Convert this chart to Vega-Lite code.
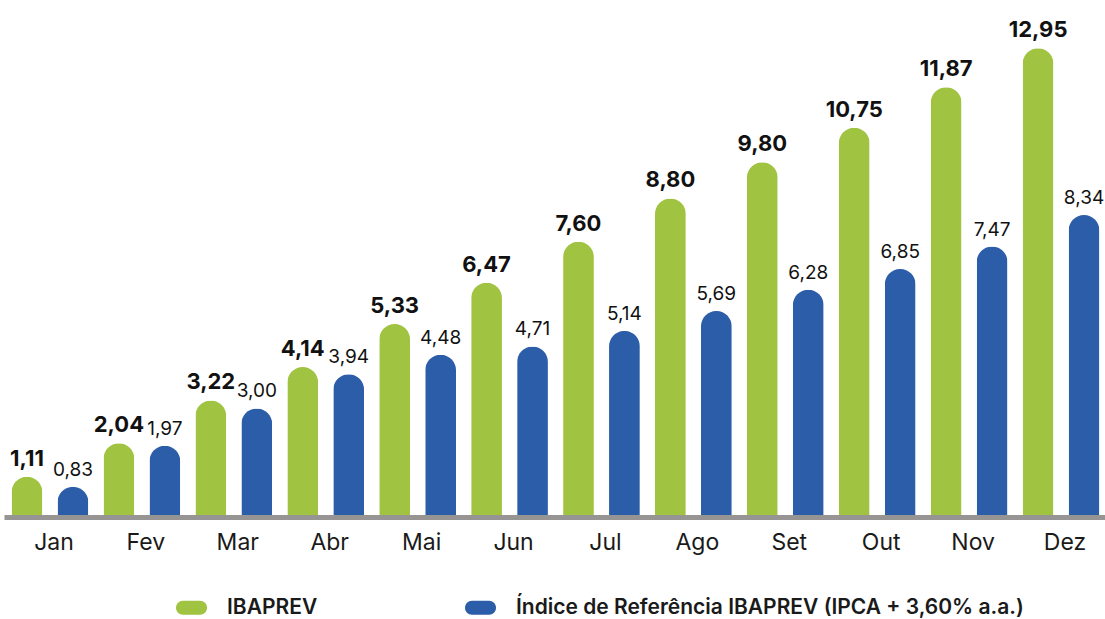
{
  "$schema": "https://vega.github.io/schema/vega-lite/v6.json",
  "width": 1103,
  "height": 517,
  "autosize": {"type": "none"},
  "padding": {"left": 4, "top": 0, "right": 0, "bottom": 102},
  "background": "white",
  "config": {
    "view": {"stroke": null},
    "font": "Inter",
    "locale": {"number": {"decimal": ",", "thousands": ".", "grouping": [3], "currency": ["R$", ""]}}
  },
  "data": {
    "values": [
      {"month": "Jan", "series": "IBAPREV", "value": 1.11},
      {"month": "Jan", "series": "Índice de Referência IBAPREV (IPCA + 3,60% a.a.)", "value": 0.83},
      {"month": "Fev", "series": "IBAPREV", "value": 2.04},
      {"month": "Fev", "series": "Índice de Referência IBAPREV (IPCA + 3,60% a.a.)", "value": 1.97},
      {"month": "Mar", "series": "IBAPREV", "value": 3.22},
      {"month": "Mar", "series": "Índice de Referência IBAPREV (IPCA + 3,60% a.a.)", "value": 3.00},
      {"month": "Abr", "series": "IBAPREV", "value": 4.14},
      {"month": "Abr", "series": "Índice de Referência IBAPREV (IPCA + 3,60% a.a.)", "value": 3.94},
      {"month": "Mai", "series": "IBAPREV", "value": 5.33},
      {"month": "Mai", "series": "Índice de Referência IBAPREV (IPCA + 3,60% a.a.)", "value": 4.48},
      {"month": "Jun", "series": "IBAPREV", "value": 6.47},
      {"month": "Jun", "series": "Índice de Referência IBAPREV (IPCA + 3,60% a.a.)", "value": 4.71},
      {"month": "Jul", "series": "IBAPREV", "value": 7.60},
      {"month": "Jul", "series": "Índice de Referência IBAPREV (IPCA + 3,60% a.a.)", "value": 5.14},
      {"month": "Ago", "series": "IBAPREV", "value": 8.80},
      {"month": "Ago", "series": "Índice de Referência IBAPREV (IPCA + 3,60% a.a.)", "value": 5.69},
      {"month": "Set", "series": "IBAPREV", "value": 9.80},
      {"month": "Set", "series": "Índice de Referência IBAPREV (IPCA + 3,60% a.a.)", "value": 6.28},
      {"month": "Out", "series": "IBAPREV", "value": 10.75},
      {"month": "Out", "series": "Índice de Referência IBAPREV (IPCA + 3,60% a.a.)", "value": 6.85},
      {"month": "Nov", "series": "IBAPREV", "value": 11.87},
      {"month": "Nov", "series": "Índice de Referência IBAPREV (IPCA + 3,60% a.a.)", "value": 7.47},
      {"month": "Dez", "series": "IBAPREV", "value": 12.95},
      {"month": "Dez", "series": "Índice de Referência IBAPREV (IPCA + 3,60% a.a.)", "value": 8.34}
    ]
  },
  "encoding": {
    "x": {
      "field": "month",
      "type": "nominal",
      "sort": ["Jan", "Fev", "Mar", "Abr", "Mai", "Jun", "Jul", "Ago", "Set", "Out", "Nov", "Dez"],
      "scale": {"paddingInner": 0, "paddingOuter": 0},
      "axis": {
        "title": null,
        "orient": "bottom",
        "labelAngle": 0,
        "domain": true,
        "domainColor": "#979494",
        "domainWidth": 5,
        "ticks": false,
        "grid": false,
        "labelFont": "Inter",
        "labelFontSize": 23,
        "labelColor": "#1a1a1a",
        "labelPadding": 14,
        "labelOffset": 4,
        "zindex": 1
      }
    },
    "xOffset": {
      "field": "series",
      "type": "nominal",
      "sort": ["IBAPREV", "Índice de Referência IBAPREV (IPCA + 3,60% a.a.)"],
      "scale": {"paddingInner": 0.33, "paddingOuter": 0.165}
    },
    "y": {
      "field": "value",
      "type": "quantitative",
      "scale": {"domain": [0, 14.28], "nice": false, "zero": true},
      "axis": null
    }
  },
  "layer": [
    {
      "mark": {"type": "bar", "cornerRadiusTopLeft": 15.5, "cornerRadiusTopRight": 15.5},
      "encoding": {
        "color": {
          "field": "series",
          "type": "nominal",
          "sort": ["IBAPREV", "Índice de Referência IBAPREV (IPCA + 3,60% a.a.)"],
          "scale": {
            "domain": ["IBAPREV", "Índice de Referência IBAPREV (IPCA + 3,60% a.a.)"],
            "range": ["#A0C341", "#2C5DA8"]
          },
          "legend": {
            "title": null,
            "orient": "none",
            "direction": "horizontal",
            "legendX": 172,
            "legendY": 592,
            "padding": 0,
            "symbolType": "M -0.55 -0.45 L 0.55 -0.45 A 0.45 0.45 0 0 1 0.55 0.45 L -0.55 0.45 A 0.45 0.45 0 0 1 -0.55 -0.45 Z",
            "symbolSize": 961,
            "symbolStrokeWidth": 0,
            "symbolOpacity": 1,
            "labelFont": "Inter",
            "labelFontSize": 21,
            "labelFontWeight": 600,
            "labelColor": "#1a1a1a",
            "labelOffset": 20,
            "labelLimit": 800,
            "columnPadding": 146
          }
        }
      }
    },
    {
      "transform": [{"filter": "datum.series === 'IBAPREV'"}],
      "mark": {"type": "text", "baseline": "alphabetic", "dy": -11, "fontSize": 22, "fontWeight": "bold", "color": "#111111", "font": "Inter"},
      "encoding": {"text": {"field": "value", "type": "quantitative", "format": ".2f"}}
    },
    {
      "transform": [{"filter": "datum.series !== 'IBAPREV'"}],
      "mark": {"type": "text", "baseline": "alphabetic", "dy": -11, "fontSize": 19, "fontWeight": "normal", "color": "#111111", "font": "Inter"},
      "encoding": {"text": {"field": "value", "type": "quantitative", "format": ".2f"}}
    }
  ]
}
